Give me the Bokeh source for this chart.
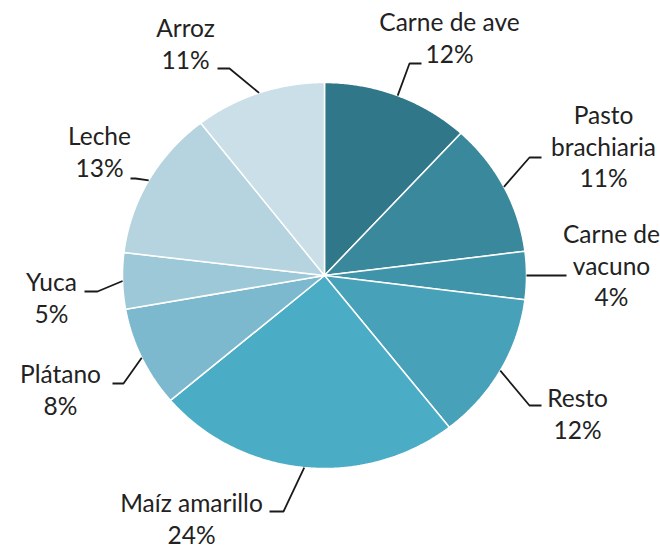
import numpy as np
from bokeh.plotting import figure
from bokeh.models import Range1d, ColumnDataSource
from bokeh.core.properties import value
from bokeh.embed import file_html
from bokeh.resources import INLINE

# ---- data (clockwise from 12 o'clock) ----
categories = ["Carne de ave", "Pasto brachiaria", "Carne de vacuno", "Resto",
              "Maíz amarillo", "Plátano", "Yuca", "Leche", "Arroz"]
shares = [11.8, 11.2, 4.0, 12.4, 24.4, 8.4, 4.7, 12.6, 10.5]
label_names = [["Carne de ave"], ["Pasto", "brachiaria"], ["Carne de", "vacuno"], ["Resto"],
               ["Maíz amarillo"], ["Plátano"], ["Yuca"], ["Leche"], ["Arroz"]]

# ---- styles / layout ----
colors = ["#31778A", "#39889C", "#3F94AA", "#47A1B9", "#4BACC6",
          "#7DB9CE", "#9DC8D8", "#B6D4DF", "#CADFE7"]
CX, CY, RX, RY = 324, 275, 202, 193
# label block position (centre x, first line centre y), leader elbow and end
label_pos = [(449, 21), (603, 114), (611, 233), (577, 397), (191, 502),
             (60, 373), (51, 281), (99, 135), (185, 27)]
elbow = [(409, 63), (529, 157), (543, 275), (529, 405), (283, 511),
         (123, 383), (97, 291), (135, 178), (229, 68)]
leader_end = [(421, 63), (541, 157), (566, 275), (541, 405), (269, 511),
              (112, 383), (84, 291), (130, 178), (217, 68)]
LINE_H = 31.5

p = figure(width=660, height=545, output_backend="svg", toolbar_location=None,
           x_range=Range1d(0, 660), y_range=Range1d(545, 0),
           x_axis_type=None, y_axis_type=None, min_border=0)
p.outline_line_color = None
p.background_fill_color = "white"
p.border_fill_color = "white"

total = float(sum(shares))
cum = np.cumsum([0.0] + shares) / total * 2 * np.pi

xs, ys = [], []
for i in range(len(shares)):
    t = np.linspace(cum[i], cum[i + 1], 120)
    xs.append(list(np.r_[CX, CX + RX * np.sin(t), CX]))
    ys.append(list(np.r_[CY, CY - RY * np.cos(t), CY]))
p.patches(xs, ys, fill_color=colors, line_color="white", line_width=1.5)

# leader lines from slice mid-angle edge
lx, ly = [], []
for i in range(len(shares)):
    mid = (cum[i] + cum[i + 1]) / 2
    ex, ey = CX + RX * np.sin(mid), CY - RY * np.cos(mid)
    lx.append([ex, elbow[i][0], leader_end[i][0]])
    ly.append([ey, elbow[i][1], leader_end[i][1]])
p.multi_line(lx, ly, line_color="#1a1a1a", line_width=1.8)

# labels
tx, ty, tt = [], [], []
for i, names in enumerate(label_names):
    lines = names + ["%d%%" % int(shares[i] + 0.5)]
    x0, y0 = label_pos[i]
    for k, s in enumerate(lines):
        tx.append(x0)
        ty.append(y0 + k * LINE_H)
        tt.append(s)
src = ColumnDataSource(dict(x=tx, y=ty, text=tt))
p.text(x="x", y="y", text="text", source=src, text_font=value("Lato"),
       text_font_size="24.5px", text_color="#222222", text_align="center",
       text_baseline="middle")

open("out.html", "w").write(file_html(p, INLINE))
